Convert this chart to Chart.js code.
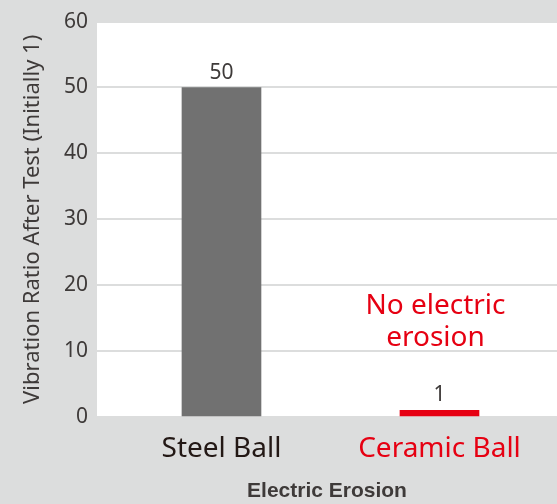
<!DOCTYPE html>
<html>
<head>
<meta charset="utf-8">
<script src="https://cdn.jsdelivr.net/npm/chart.js@4/dist/chart.umd.min.js"></script>
<style>
  html, body { margin: 0; padding: 0; background: #dcdddd; }
  #wrap { width: 557px; height: 504px; }
</style>
</head>
<body>
<div id="wrap"><canvas id="erosionChart" width="557" height="504"></canvas></div>
<script>
// Dữ liệu biểu đồ
const categories = ['Steel Ball', 'Ceramic Ball'];
const vibration = [50, 1];
const yTicks = [0, 10, 20, 30, 40, 50, 60];
const noteLines = ['No electric', 'erosion'];

const barColors = ['#717171', '#e60012'];
const labelColors = ['#231815', '#e60012'];
const textColor = '#3e3a39';

// nền trắng cho vùng vẽ
const plotBg = {
  id: 'plotBg',
  beforeDraw(chart) {
    const { ctx, chartArea: a } = chart;
    ctx.save();
    ctx.fillStyle = '#ffffff';
    ctx.fillRect(a.left, a.top, a.right - a.left, a.bottom - a.top);
    ctx.restore();
  }
};

// nhãn giá trị trên cột + ghi chú đỏ
const barLabels = {
  id: 'barLabels',
  afterDatasetsDraw(chart) {
    const { ctx, scales } = chart;
    const meta = chart.getDatasetMeta(0);
    ctx.save();
    ctx.font = '21px "Noto Sans"';
    ctx.fillStyle = textColor;
    ctx.textAlign = 'center';
    ctx.textBaseline = 'alphabetic';
    meta.data.forEach((bar, i) => {
      ctx.fillText(String(vibration[i]), bar.x, bar.y - 9);
    });
    ctx.font = '28px "Noto Sans"';
    ctx.fillStyle = '#e60012';
    const nx = scales.x.getPixelForValue(1) - 4;
    const ny = scales.y.getPixelForValue(15.7);
    noteLines.forEach((t, i) => ctx.fillText(t, nx, ny + i * 32));
    ctx.restore();
  }
};

new Chart(document.getElementById('erosionChart'), {
  type: 'bar',
  data: {
    datasets: [{
      data: vibration.map((v, i) => ({ x: i, y: v })),
      backgroundColor: barColors,
      barThickness: 79,
    }]
  },
  options: {
    responsive: false,
    animation: false,
    layout: { padding: { top: 21, right: 0, left: 0, bottom: 0 } },
    plugins: {
      legend: { display: false },
      tooltip: { enabled: false },
    },
    scales: {
      x: {
        type: 'linear',
        offset: false,
        min: -0.571,
        max: 1.539,
        afterBuildTicks: (scale) => { scale.ticks = categories.map((c, i) => ({ value: i })); },
        afterFit: (scale) => { scale.height = 87; },
        grid: { display: false, offset: false },
        border: { display: false },
        ticks: {
          padding: 7,
          font: { family: 'Noto Sans', size: 28 },
          color: (ctx) => labelColors[ctx.index],
          callback: (v) => categories[v],
        },
        title: {
          display: true,
          text: 'Electric Erosion',
          color: textColor,
          font: { family: 'Liberation Sans', size: 21, weight: 'bold' },
          padding: { top: 0, bottom: 0 },
        }
      },
      y: {
        min: 0,
        max: 60,
        afterBuildTicks: (scale) => { scale.ticks = yTicks.map(v => ({ value: v })); },
        afterFit: (scale) => { scale.width = 97; },
        grid: { color: '#dcdddd', lineWidth: 2, drawTicks: false },
        border: { display: false },
        ticks: {
          padding: 9,
          font: { family: 'Noto Sans', size: 21 },
          color: textColor,
        },
        title: {
          display: true,
          text: 'Vibration Ratio After Test (Initially 1)',
          color: textColor,
          font: { family: 'Noto Sans', size: 22 },
          padding: { top: 20, bottom: 0 },
        }
      }
    }
  },
  plugins: [plotBg, barLabels]
});
</script>
</body>
</html>
